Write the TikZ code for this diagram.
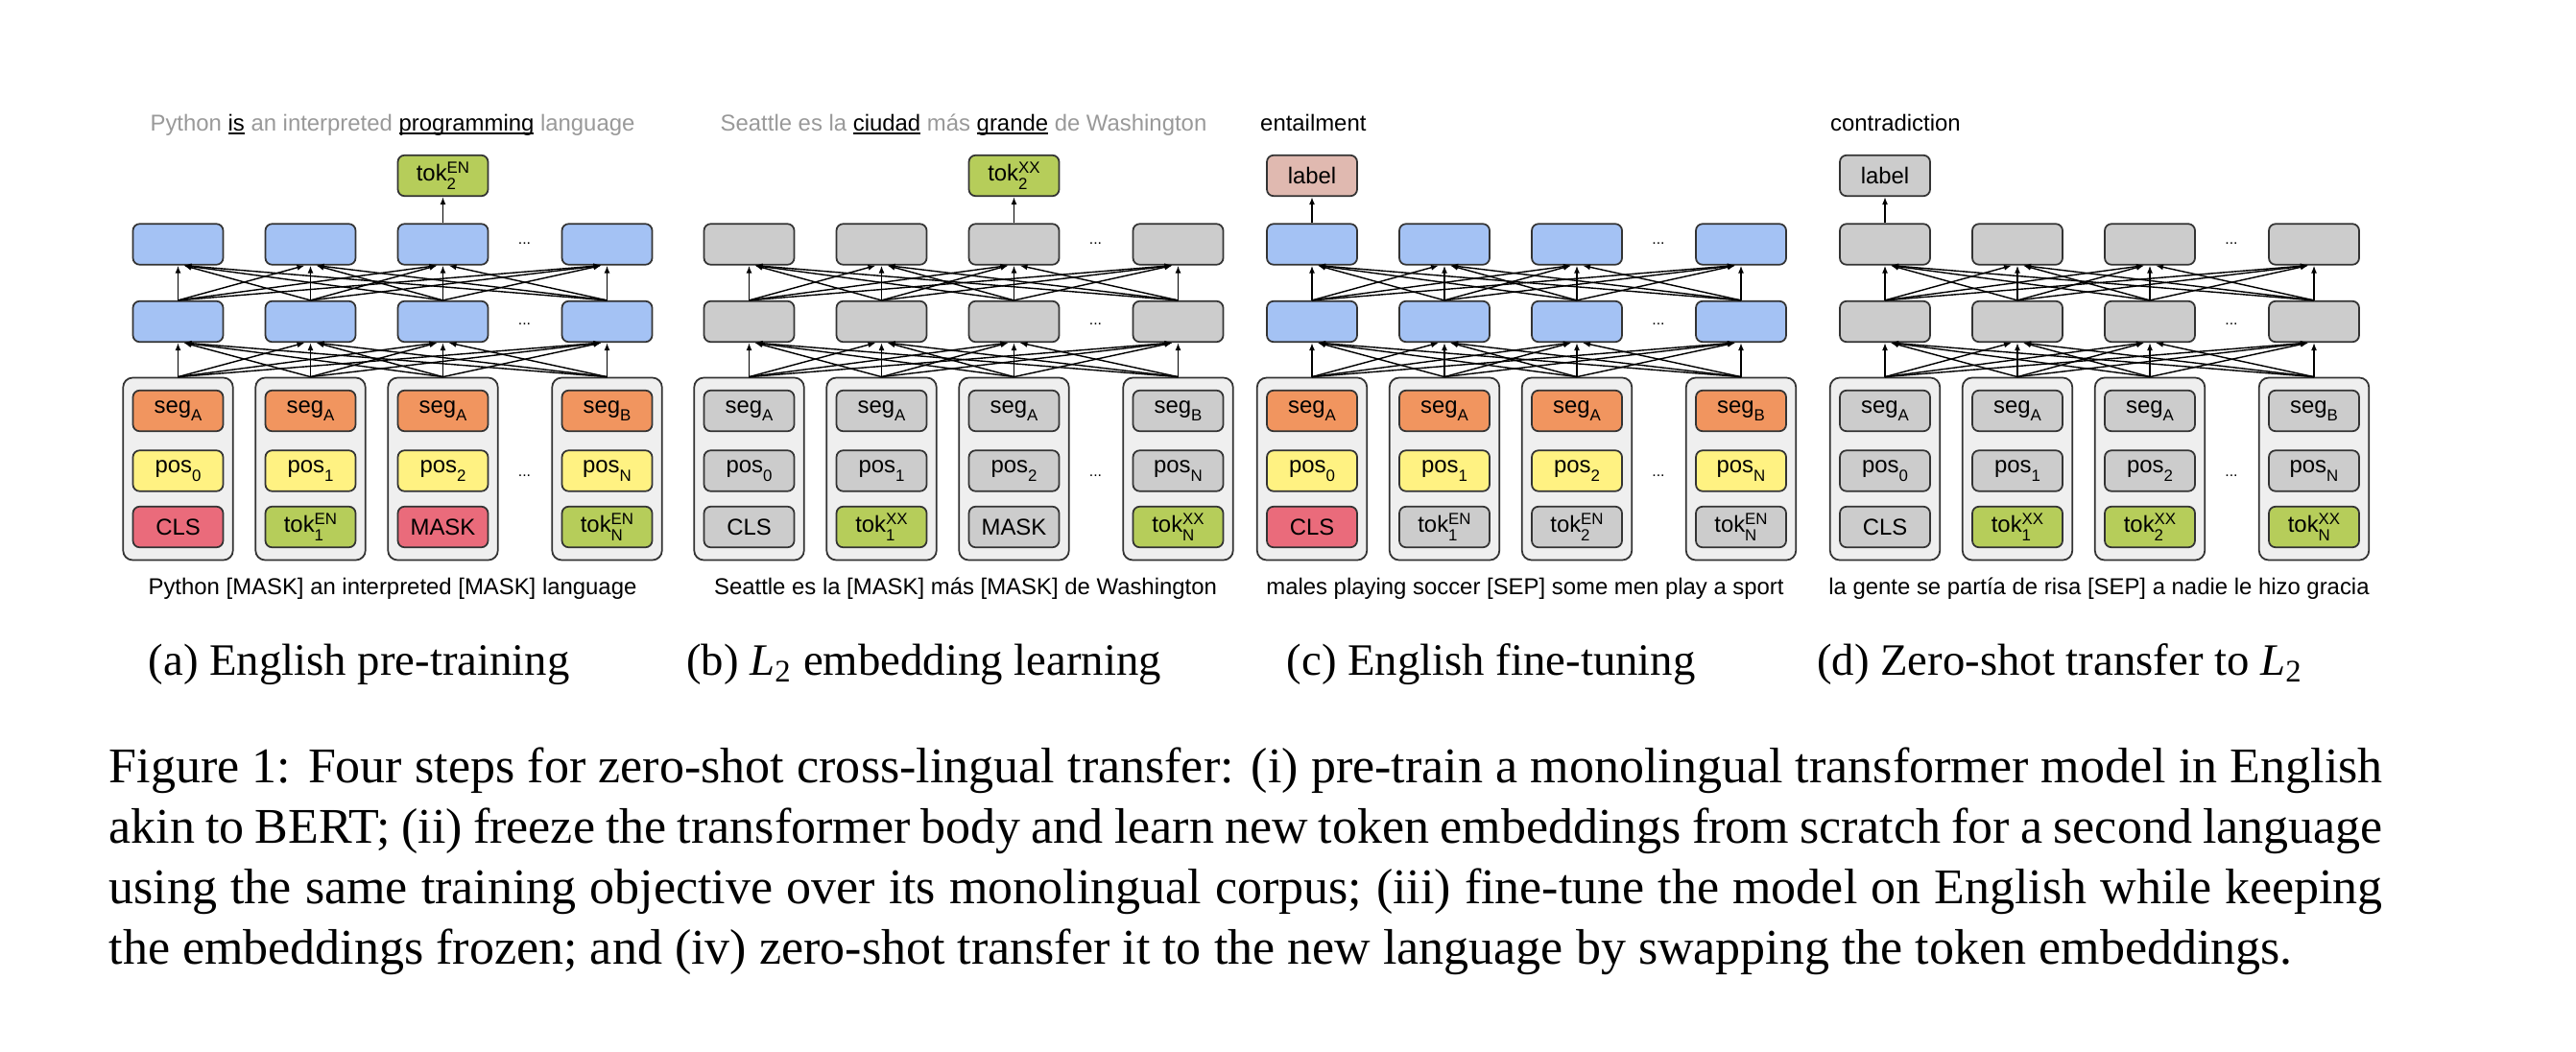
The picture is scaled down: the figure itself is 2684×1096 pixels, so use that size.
\documentclass[tikz,border=0pt]{standalone}
\usepackage{fontspec}
\setmainfont{Liberation Serif}
\newfontfamily\diagfont{Liberation Sans}
\usetikzlibrary{arrows.meta, positioning}
\definecolor{bodyblue}{HTML}{A4C2F4}
\definecolor{frozen}{HTML}{CCCCCC}
\definecolor{holdgray}{HTML}{EFEFEF}
\definecolor{segorange}{HTML}{F1955F}
\definecolor{posyellow}{HTML}{FFF282}
\definecolor{clsred}{HTML}{EA6B7B}
\definecolor{tokgreen}{HTML}{B6CD5A}
\definecolor{labelpink}{HTML}{E0B9B0}
\definecolor{txtgray}{HTML}{999999}
\definecolor{edge}{HTML}{333333}
\newcommand{\diagsize}{\diagfont\fontsize{6.8pt}{8.2pt}\selectfont}
\newcommand{\lowidx}[1]{\raisebox{-0.36em}{\fontsize{4.8pt}{5pt}\selectfont #1}}
\newcommand{\highidx}[1]{\raisebox{0.36em}{\fontsize{4.8pt}{5pt}\selectfont #1}}
\newcommand{\tokidx}[2]{tok\rlap{\lowidx{#1}}\highidx{#2}}
\newcommand{\keyword}[1]{{\color{black}\setbox0\hbox{#1}\rlap{\rule[-0.13em]{\wd0}{0.08em}}\box0}}

\begin{document}
\begin{tikzpicture}[x=0.1mm, y=-0.1mm, >={Latex[length=0.8mm,width=0.6mm]},
  box/.style={draw=edge, line width=0.5pt, rounded corners=0.7mm,
    minimum width=9.4mm, minimum height=4.25mm, inner sep=0pt, font=\diagsize},
  holder/.style={draw=edge, fill=holdgray, line width=0.5pt, rounded corners=1mm,
    minimum width=11.45mm, minimum height=19mm, inner sep=0pt},
  link/.style={->, line width=0.4pt},
  dots/.style={inner sep=0pt, font=\diagfont\fontsize{4.5pt}{5pt}\selectfont},
  sentence/.style={inner sep=0pt, anchor=base, font=\diagsize},
  subcap/.style={inner sep=0pt, anchor=base west, font=\fontsize{13.3pt}{15pt}\selectfont}]

  \useasboundingbox (0,0) rectangle (2684,1096);

  % Transformer body of each panel: holders, two hidden rows, dots, links
  \foreach \p/\px/\bodyc in {a/185.5/bodyblue, b/780.5/frozen, c/1367/bodyblue, d/1964/frozen}{
    \begin{scope}[shift={(\px,0)}]
      \foreach \i/\dx in {1/0, 2/138, 3/276, 4/447}{
        \node[holder] (\p-emb-\i) at (\dx,488.5) {};
        \node[box, fill=\bodyc] (\p-h1-\i) at (\dx,335) {};
        \node[box, fill=\bodyc] (\p-h2-\i) at (\dx,254.5) {};
      }
      \node[dots] (\p-dots-h2) at (361,254) {...};
      \node[dots] (\p-dots-h1) at (361,338) {...};
      \node[dots] (\p-dots-emb) at (361,496) {...};
      \foreach \i in {1,...,4}{
        \foreach \j in {1,...,4}{
          \pgfmathsetmacro{\off}{6*(\i>\j)-6*(\i<\j)}
          \draw[link] (\p-emb-\i.north) -- ([xshift=\off*0.1mm]\p-h1-\j.south);
          \draw[link] (\p-h1-\i.north) -- ([xshift=\off*0.1mm]\p-h2-\j.south);
        }
      }
    \end{scope}
  }

  % Segment and position embeddings
  \foreach \p/\px/\segc/\posc in {a/185.5/segorange/posyellow, b/780.5/frozen/frozen,
      c/1367/segorange/posyellow, d/1964/frozen/frozen}{
    \begin{scope}[shift={(\px,0)}]
      \foreach \i/\dx/\s/\n in {1/0/A/0, 2/138/A/1, 3/276/A/2, 4/447/B/N}{
        \node[box, fill=\segc] (\p-seg-\i) at (\dx,428) {seg\lowidx{\s}};
        \node[box, fill=\posc] (\p-pos-\i) at (\dx,490.5) {pos\lowidx{\n}};
      }
    \end{scope}
  }

  % Token embeddings
  \foreach \i/\dx/\tokc/\word in {1/0/clsred/CLS, 2/138/tokgreen/\tokidx{1}{EN},
      3/276/clsred/MASK, 4/447/tokgreen/\tokidx{N}{EN}}
    \node[box, fill=\tokc] (a-tok-\i) at (185.5+\dx,549) {\word};
  \foreach \i/\dx/\tokc/\word in {1/0/frozen/CLS, 2/138/tokgreen/\tokidx{1}{XX},
      3/276/frozen/MASK, 4/447/tokgreen/\tokidx{N}{XX}}
    \node[box, fill=\tokc] (b-tok-\i) at (780.5+\dx,549) {\word};
  \foreach \i/\dx/\tokc/\word in {1/0/clsred/CLS, 2/138/frozen/\tokidx{1}{EN},
      3/276/frozen/\tokidx{2}{EN}, 4/447/frozen/\tokidx{N}{EN}}
    \node[box, fill=\tokc] (c-tok-\i) at (1367+\dx,549) {\word};
  \foreach \i/\dx/\tokc/\word in {1/0/frozen/CLS, 2/138/tokgreen/\tokidx{1}{XX},
      3/276/tokgreen/\tokidx{2}{XX}, 4/447/tokgreen/\tokidx{N}{XX}}
    \node[box, fill=\tokc] (d-tok-\i) at (1964+\dx,549) {\word};

  % Outputs
  \node[box, fill=tokgreen] (a-out) at (461.5,183) {\tokidx{2}{EN}};
  \node[box, fill=tokgreen] (b-out) at (1056.5,183) {\tokidx{2}{XX}};
  \node[box, fill=labelpink] (c-out) at (1367,183) {label};
  \node[box, fill=frozen] (d-out) at (1964,183) {label};
  \draw[link] (a-h2-3.north) -- (a-out.south);
  \draw[link] (b-h2-3.north) -- (b-out.south);
  \draw[link] (c-h2-1.north) -- (c-out.south);
  \draw[link] (d-h2-1.north) -- (d-out.south);

  % Targets above
  \node[sentence, text=txtgray] (a-target) at (409,137)
    {Python \keyword{is} an interpreted \keyword{programming} language};
  \node[sentence, text=txtgray] (b-target) at (1004,137)
    {Seattle es la \keyword{ciudad} más \keyword{grande} de Washington};
  \node[sentence, anchor=base west] (c-target) at (1312.5,137) {entailment};
  \node[sentence, anchor=base west] (d-target) at (1906.5,137) {contradiction};

  % Inputs below
  \node[sentence] (a-input) at (409,619) {Python [MASK] an interpreted [MASK] language};
  \node[sentence] (b-input) at (1006,619) {Seattle es la [MASK] más [MASK] de Washington};
  \node[sentence] (c-input) at (1589,619) {males playing soccer [SEP] some men play a sport};
  \node[sentence] (d-input) at (2187,619) {la gente se partía de risa [SEP] a nadie le hizo gracia};

  % Sub-captions
  \node[subcap] (a-cap) at (154,703) {(a) English pre-training};
  \node[subcap] (b-cap) at (714.5,703) {(b) \textit{L}\textsubscript{2} embedding learning};
  \node[subcap] (c-cap) at (1340,703) {(c) English fine-tuning};
  \node[subcap] (d-cap) at (1892.5,703) {(d) Zero-shot transfer to \textit{L}\textsubscript{2}};

  % Caption
  \node[anchor=base west, inner sep=0pt, text width=236.9mm, align=justify,
    font=\fontsize{14.8pt}{17.94pt}\selectfont] (caption) at (113,815)
    {\hyphenpenalty=10000 Figure 1: Four steps for zero-shot cross-lingual transfer: (i) pre-train a monolingual transformer model in English\linebreak
     akin to BERT; (ii) freeze the transformer body and learn new token embeddings from scratch for a second language\linebreak
     using the same training objective over its monolingual corpus; (iii) fine-tune the model on English while keeping\linebreak
     the embeddings frozen; and (iv) zero-shot transfer it to the new language by swapping the token embeddings.};
\end{tikzpicture}
\end{document}
